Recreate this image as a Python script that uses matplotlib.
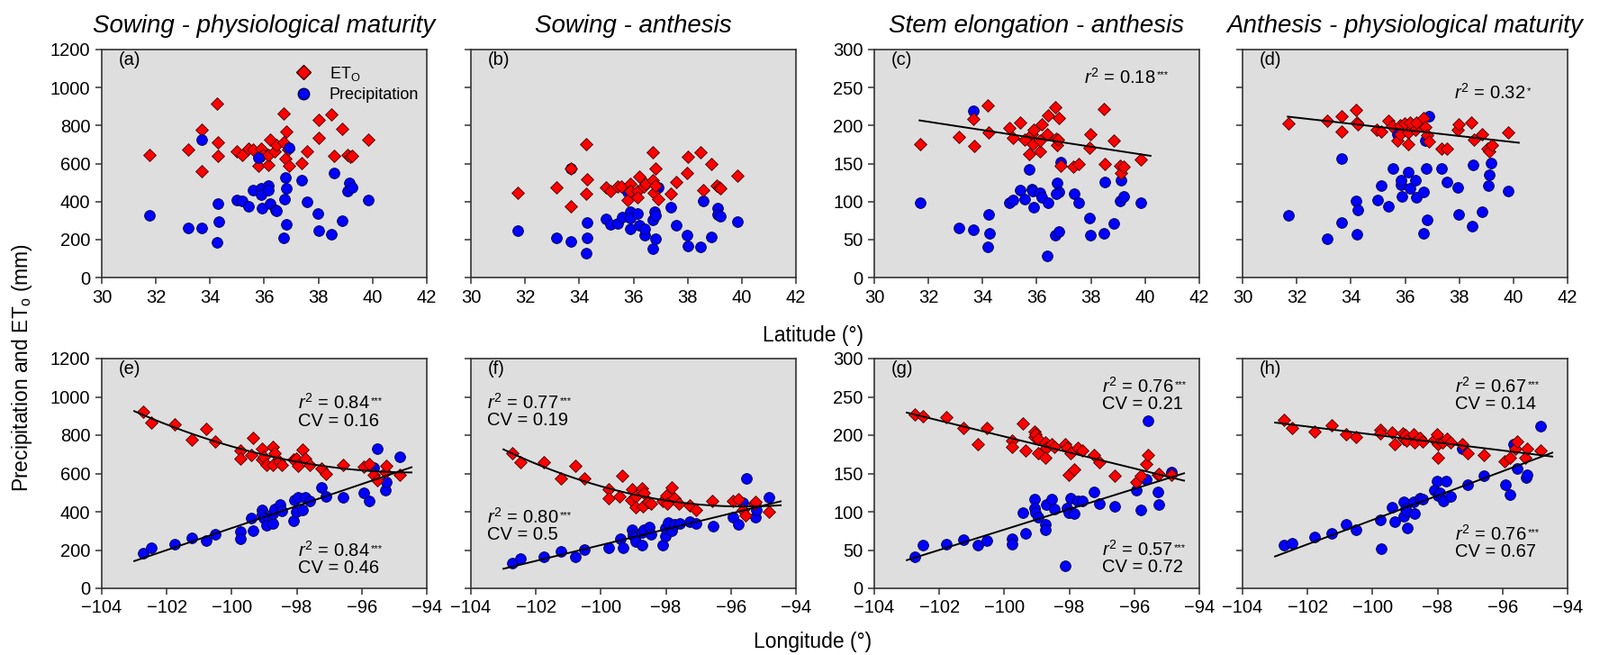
import numpy as np
import matplotlib
matplotlib.use("Agg")
import matplotlib.pyplot as plt
from matplotlib.lines import Line2D

plt.rcParams['font.family'] = ['Liberation Sans', 'DejaVu Sans']
plt.rcParams['mathtext.fontset'] = 'custom'
plt.rcParams['mathtext.rm'] = 'Liberation Sans'
plt.rcParams['mathtext.it'] = 'Liberation Sans:italic'

# ---- data ----
titles = ["Sowing - physiological maturity", "Sowing - anthesis",
          "Stem elongation - anthesis", "Anthesis - physiological maturity"]

# latitude panels (a-d)
a_eto_x = [31.77,33.18,33.69,33.69,34.25,34.30,34.29,35.0,35.17,35.42,35.57,35.77,35.90,35.94,36.15,36.16,36.22,36.39,36.45,36.71,36.71,36.78,36.83,36.88,36.91,37.39,37.59,38.0,38.02,38.48,38.56,38.86,39.09,39.18,39.25,39.85]
a_eto = [643,674,778,560,916,712,641,666,643,676,674,586,680,647,595,643,728,665,695,861,711,624,767,674,589,603,666,736,829,857,638,782,643,636,640,725]
a_pr_x = [31.77,33.18,33.69,33.69,34.25,34.30,34.31,35.0,35.17,35.42,35.57,35.77,35.87,35.88,35.92,36.15,36.16,36.22,36.42,36.45,36.74,36.79,36.81,36.83,36.71,36.91,37.39,37.59,37.98,38.02,38.48,38.56,38.86,39.09,39.15,39.25,39.85]
a_pr = [328,259,262,725,185,390,295,406,401,376,459,630,470,436,363,482,458,390,358,350,415,526,470,279,208,685,512,398,339,248,229,551,300,455,500,472,406]

b_eto_x = [31.74,33.16,33.68,33.69,34.24,34.29,34.26,35.0,35.16,35.41,35.56,35.77,35.9,35.87,36.14,36.14,36.2,36.39,36.44,36.71,36.71,36.76,36.82,36.81,36.9,37.39,37.57,38.0,37.99,38.46,38.56,38.86,39.08,39.17,39.22,39.84]
b_eto = [445,472,573,374,703,516,442,474,455,477,477,406,491,455,453,423,532,477,494,658,513,445,576,482,414,439,501,636,548,658,461,597,482,475,469,538]
b_pr_x = [31.74,33.17,33.68,33.68,34.24,34.28,34.3,35.0,35.16,35.41,35.57,35.77,35.87,35.87,35.9,36.14,36.2,36.4,36.43,36.71,36.73,36.78,36.82,36.82,36.91,37.39,37.57,37.99,38.0,38.46,38.56,38.87,39.11,39.11,39.22,39.84]
b_pr = [245,208,191,573,128,289,208,306,279,283,319,452,344,311,257,338,273,223,257,150,303,344,328,202,474,368,273,223,164,159,404,213,366,332,322,294]

c_eto_x = [31.7,33.13,33.66,33.68,34.19,34.23,34.97,35.13,35.39,35.54,35.72,35.83,35.86,35.9,36.11,36.13,36.19,36.38,36.41,36.67,36.71,36.74,36.8,36.79,36.89,37.36,37.56,37.94,37.99,38.47,38.52,38.83,39.08,39.1,39.21,39.83]
c_eto = [176,185,209,173,227,191,197,184,204,182,162,189,176,195,166,180,201,188,214,224,183,174,210,182,147,146,149,171,188,222,150,180,147,138,146,155]
c_pr_x = [31.7,33.13,33.66,33.66,34.21,34.27,34.2,34.97,35.13,35.39,35.54,35.71,35.83,35.84,35.89,36.11,36.17,36.41,36.37,36.67,36.74,36.8,36.7,36.8,36.89,37.38,37.56,37.94,37.99,38.47,38.52,38.83,39.1,39.08,39.21,39.83]
c_pr = [99,65,219,63,83,58,40,99,102,115,103,142,116,114,92,112,106,99,29,56,125,113,110,61,152,110,99,78,56,58,126,71,128,101,107,98]

d_eto_x = [31.71,33.14,33.64,33.67,34.2,34.22,34.26,34.96,35.13,35.39,35.53,35.72,35.83,35.83,35.98,36.1,36.11,36.17,36.37,36.42,36.67,36.76,36.8,36.89,37.33,37.56,37.93,37.98,38.44,38.53,38.83,39.04,39.11,39.22,39.81]
d_eto = [203,206,212,192,220,204,202,195,192,206,199,180,200,188,203,191,176,204,194,204,210,198,187,179,170,170,195,201,204,181,188,169,166,174,191]
d_pr_x = [31.71,33.14,33.64,33.67,34.2,34.21,34.26,34.98,35.13,35.39,35.56,35.84,35.86,35.9,36.11,36.18,36.37,36.4,36.69,36.68,36.79,36.8,36.87,35.73,36.76,37.36,37.56,37.93,37.98,38.47,38.52,38.83,39.07,39.11,39.18,39.82]
d_pr = [82,51,72,156,101,57,89,102,121,94,144,122,128,107,139,117,128,105,113,58,144,76,212,189,180,144,126,118,83,67,148,87,121,135,151,114]

# longitude panels (e-h)
e_eto_x = [-102.72,-102.47,-101.75,-101.24,-100.79,-100.52,-99.74,-99.74,-99.41,-99.34,-99.06,-99.07,-99.02,-98.94,-98.73,-98.69,-98.73,-98.55,-98.45,-98.09,-98.02,-97.96,-97.83,-97.74,-97.6,-97.25,-97.09,-96.59,-95.94,-95.77,-95.63,-95.53,-95.28,-95.24,-94.83]
e_eto = [921,864,857,778,832,769,718,676,695,785,730,674,687,644,737,707,644,663,644,671,677,640,726,677,644,628,597,643,635,651,591,564,605,640,592]
e_pr_x = [-102.72,-102.47,-101.75,-101.24,-100.79,-100.52,-99.74,-99.74,-99.41,-99.34,-99.06,-99.06,-99.01,-98.94,-98.73,-98.73,-98.69,-98.52,-98.45,-98.09,-98.06,-98.02,-97.95,-97.83,-97.74,-97.6,-97.25,-97.09,-96.59,-95.94,-95.76,-95.63,-95.53,-95.28,-95.24,-94.83]
e_pr = [185,212,232,264,248,281,298,261,365,300,411,387,368,330,340,390,414,437,403,351,461,398,474,409,474,458,527,480,474,501,455,632,730,513,553,687]

f_eto_x = [-102.72,-102.47,-101.75,-101.22,-100.79,-100.52,-99.75,-99.75,-99.42,-99.34,-99.05,-99.06,-98.94,-98.94,-98.74,-98.69,-98.72,-98.53,-98.45,-98.11,-98.0,-97.96,-97.82,-97.74,-97.6,-97.26,-97.08,-96.57,-95.94,-95.76,-95.63,-95.54,-95.28,-95.24,-94.84]
f_eto = [706,660,658,575,638,575,516,472,480,587,516,461,478,425,524,497,426,450,441,456,485,441,526,469,442,431,411,456,456,466,411,379,441,450,401]
f_pr_x = [-102.72,-102.47,-101.75,-101.22,-100.79,-100.52,-99.75,-99.41,-99.32,-99.05,-99.02,-98.97,-98.94,-98.74,-98.74,-98.69,-98.51,-98.45,-98.11,-98.02,-98.02,-97.94,-97.82,-97.74,-97.58,-97.26,-97.07,-96.56,-95.93,-95.76,-95.63,-95.53,-95.26,-95.23,-94.84]
f_pr = [131,153,164,194,166,204,210,261,213,306,280,268,245,224,290,305,318,284,224,273,316,344,300,334,338,346,340,324,370,334,447,573,370,408,475]

g_eto_x = [-102.74,-102.5,-101.79,-101.27,-100.81,-100.55,-99.77,-99.77,-99.42,-99.35,-99.07,-99.06,-99.03,-98.95,-98.95,-98.75,-98.72,-98.75,-98.54,-98.47,-98.12,-98.06,-97.95,-98.01,-97.85,-97.75,-97.59,-97.25,-97.08,-96.6,-95.93,-95.79,-95.63,-95.58,-95.28,-95.25,-94.85]
g_eto = [227,225,223,210,188,210,193,185,215,180,205,198,201,177,195,191,184,171,188,185,188,183,176,148,155,183,180,174,165,147,139,147,162,174,148,150,148]
g_pr_x = [-102.74,-102.5,-101.79,-101.27,-100.81,-100.55,-99.77,-99.77,-99.42,-99.35,-99.07,-99.06,-99.03,-98.95,-98.75,-98.75,-98.72,-98.54,-98.47,-98.12,-98.06,-98.01,-97.95,-97.85,-97.75,-97.59,-97.25,-97.08,-96.6,-95.93,-95.79,-95.63,-95.58,-95.28,-95.25,-94.85]
g_pr = [41,56,58,63,56,62,65,58,99,72,116,105,99,93,84,77,110,116,103,30,105,99,118,98,114,114,126,111,107,128,102,142,219,126,110,152]

h_eto_x = [-102.72,-102.49,-101.78,-101.25,-100.81,-100.52,-99.75,-99.75,-99.41,-99.32,-99.06,-99.04,-99.0,-98.95,-98.74,-98.72,-98.54,-98.46,-98.11,-98.03,-97.98,-98.0,-97.84,-97.7,-97.59,-97.24,-97.07,-96.59,-95.93,-95.78,-95.62,-95.56,-95.3,-95.25,-94.83]
h_eto = [220,209,205,213,201,198,207,202,204,188,202,195,200,193,201,191,197,192,194,201,188,171,191,195,191,188,176,174,166,171,182,192,171,182,180]
h_pr_x = [-102.72,-102.49,-101.78,-101.25,-100.81,-100.52,-99.75,-99.73,-99.41,-99.32,-99.05,-99.04,-99.0,-98.95,-98.94,-98.74,-98.72,-98.54,-98.46,-98.11,-98.03,-97.98,-97.92,-97.81,-97.73,-97.59,-97.24,-97.07,-96.59,-95.91,-95.76,-95.67,-95.55,-95.28,-95.24,-94.83]
h_pr = [57,59,67,72,83,76,90,52,106,87,94,113,104,101,79,113,98,118,117,128,140,121,125,114,140,120,182,135,147,135,122,188,156,145,148,212]

# fit degree per series (None = no line)
fit_eto = [None, None, 1, 1, 2, 2, 1, 1]
fit_pr = [None, None, None, None, 1, 1, 1, 1]

# statistics text: r2, significance, CV, x, y
stats = {
    'c': [("0.18", "***", None, 37.74, 264)],
    'd': [("0.32", "*", None, 37.81, 243)],
    'e': [("0.84", "***", "0.16", -97.97, 968), ("0.84", "***", "0.46", -97.97, 200)],
    'f': [("0.77", "***", "0.19", -103.49, 971), ("0.80", "***", "0.5", -103.49, 374)],
    'g': [("0.76", "***", "0.21", -97.0, 264), ("0.57", "***", "0.72", -97.0, 51)],
    'h': [("0.67", "***", "0.14", -97.47, 264), ("0.76", "***", "0.67", -97.47, 71)],
}

panels = [
    ('a', a_eto_x, a_eto, a_pr_x, a_pr),
    ('b', b_eto_x, b_eto, b_pr_x, b_pr),
    ('c', c_eto_x, c_eto, c_pr_x, c_pr),
    ('d', d_eto_x, d_eto, d_pr_x, d_pr),
    ('e', e_eto_x, e_eto, e_pr_x, e_pr),
    ('f', f_eto_x, f_eto, f_pr_x, f_pr),
    ('g', g_eto_x, g_eto, g_pr_x, g_pr),
    ('h', h_eto_x, h_eto, h_pr_x, h_pr),
]

W, H = 1777, 727
fig = plt.figure(figsize=(W / 100, H / 100), dpi=100)

col_left = [113, 523, 971, 1380]
col_w = 361
rows = [(55, 308), (398, 653)]

red = '#ff0000'
blue = '#0000ff'
bg = '#dedede'
spine_c = '#333333'

axes = []
for i, (lab, ex, ey, px, py) in enumerate(panels):
    r, c = divmod(i, 4)
    top, bot = rows[r]
    ax = fig.add_axes([col_left[c] / W, 1 - bot / H, col_w / W, (bot - top) / H])
    ax.set_facecolor(bg)
    for s in ax.spines.values():
        s.set_color(spine_c)
        s.set_linewidth(1.2)
    ax.tick_params(direction='out', length=5, width=1.1, color=spine_c,
                   labelsize=14.5, pad=4, top=False, right=False)

    if r == 0:
        ax.set_xlim(30, 42)
        ax.set_xticks(np.arange(30, 43, 2))
        xr = (31.67, 40.2)
    else:
        ax.set_xlim(-104, -94)
        ax.set_xticks(np.arange(-104, -93, 2))
        xr = (-103.0, -94.47)
    if c < 2:
        ax.set_ylim(0, 1200)
        ax.set_yticks(np.arange(0, 1201, 200))
    else:
        ax.set_ylim(0, 300)
        ax.set_yticks(np.arange(0, 301, 50))
    if c in (1, 3):
        ax.set_yticklabels([])

    zp, ze = (3, 2) if lab == 'a' else (2, 3)
    ax.scatter(px, py, s=72, marker='o', facecolor=blue, edgecolor='#00003a',
               linewidth=0.6, zorder=zp)
    ax.scatter(ex, ey, s=50, marker='D', facecolor=red, edgecolor='#3a0000',
               linewidth=0.6, zorder=ze)

    xx = np.linspace(xr[0], xr[1], 100)
    if fit_eto[i]:
        cf = np.polyfit(ex, ey, fit_eto[i])
        ax.plot(xx, np.polyval(cf, xx), color='black', lw=1.4, zorder=4)
    if fit_pr[i]:
        cf = np.polyfit(px, py, fit_pr[i])
        ax.plot(xx, np.polyval(cf, xx), color='black', lw=1.4, zorder=4)

    ax.text(0.052, 0.955, '(%s)' % lab, transform=ax.transAxes, fontsize=14.5,
            ha='left', va='center')

    span = ax.get_ylim()[1]
    for r2, star, cv, tx, ty in stats.get(lab, []):
        t = ax.text(tx, ty, r'$\mathit{r}^{2}$ = ' + r2, fontsize=14.5,
                    ha='left', va='center', zorder=5)
        ax.annotate(star, xy=(1, 1), xycoords=t, xytext=(1, -3),
                    textcoords='offset points', fontsize=8, ha='left', va='top')
        if cv:
            ax.text(tx, ty - span * 0.079, 'CV = ' + cv, fontsize=14.5,
                    ha='left', va='center', zorder=5)

    if r == 0:
        ax.set_title(titles[c], fontsize=20, style='italic', pad=14)
    axes.append(ax)

# legend in panel (a)
handles = [Line2D([], [], marker='D', ls='none', markerfacecolor=red,
                  markeredgecolor='#3a0000', markersize=8),
           Line2D([], [], marker='o', ls='none', markerfacecolor=blue,
                  markeredgecolor='#00003a', markersize=9)]
axes[0].legend(handles, [r'ET$_\mathregular{O}$', 'Precipitation'], loc='upper right',
               bbox_to_anchor=(1.0, 0.97), frameon=False, fontsize=13,
               handletextpad=0.6, labelspacing=0.3, borderaxespad=0.1)

fig.text(903 / W, 1 - 373 / H, 'Latitude (°)', fontsize=16.5, ha='center', va='center')
fig.text(903 / W, 1 - 712 / H, 'Longitude (°)', fontsize=16.5, ha='center', va='center')
fig.text(25 / W, 1 - 408 / H, r'Precipitation and ET$_\mathregular{o}$ (mm)', fontsize=16.5,
         rotation=90, ha='center', va='center')

fig.savefig('out.png', dpi=100)
